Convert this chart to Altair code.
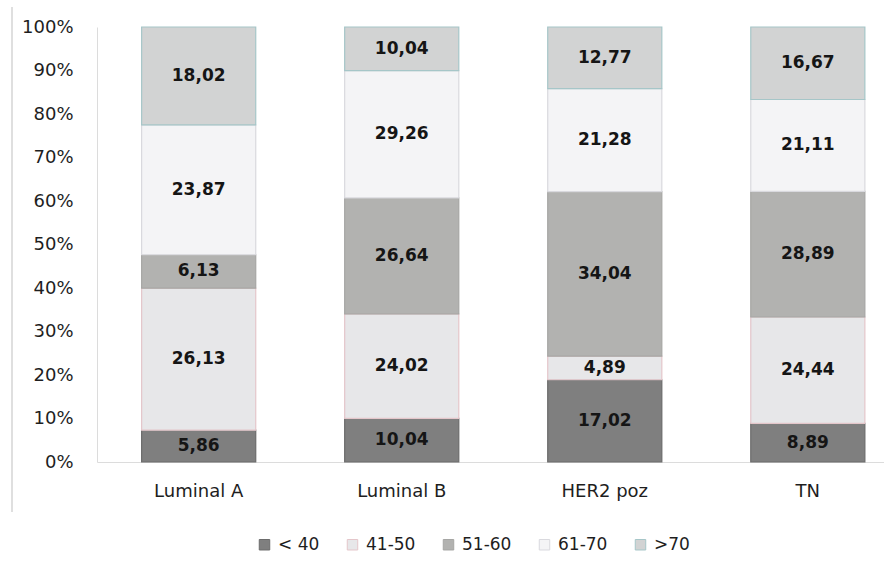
import altair as alt
import pandas as pd

# Age-group share within each breast-cancer subtype
subtypes = ["Luminal A", "Luminal B", "HER2 poz", "TN"]
age_groups = ["< 40", "41-50", "51-60", "61-70", ">70"]
lt40 = [5.86, 10.04, 17.02, 8.89]
g41_50 = [26.13, 24.02, 4.89, 24.44]
g51_60 = [6.13, 26.64, 34.04, 28.89]
g61_70 = [23.87, 29.26, 21.28, 21.11]
gt70 = [18.02, 10.04, 12.77, 16.67]

fills = ["#7f7f7f", "#e7e7e9", "#b2b2b0", "#f4f4f6", "#d2d3d3"]
strokes = ["#6c6c6c", "#e4c6ca", "#a6a6a4", "#d9d9de", "#a6c6c8"]

FONT = "DejaVu Sans"
TEXT_COLOR = "#1e1e1e"

series = [lt40, g41_50, g51_60, g61_70, gt70]
rows = []
for gi, (grp, vals) in enumerate(zip(age_groups, series)):
    for cat, v in zip(subtypes, vals):
        rows.append({
            "subtype": cat,
            "group": grp,
            "order": gi,
            "value": v,
            "label": f"{v:.2f}".replace(".", ","),
        })
df = pd.DataFrame(rows)

base = alt.Chart(df).transform_joinaggregate(
    total="sum(value)", groupby=["subtype"]
).transform_window(
    cum="sum(value)", groupby=["subtype"], sort=[alt.SortField("order")],
    frame=[None, 0]
).transform_calculate(
    y1="datum.cum / datum.total",
    y0="(datum.cum - datum.value) / datum.total",
    ym="(datum.cum - datum.value / 2) / datum.total",
)

x_enc = alt.X(
    "subtype:N", sort=subtypes, title=None,
    scale=alt.Scale(paddingInner=0.438, paddingOuter=0.157, align=0.7),
    axis=alt.Axis(labelAngle=0, ticks=False, labelPadding=20, labelFontSize=18,
                  labelColor=TEXT_COLOR, domainColor="#dcdcdc", labelFont=FONT),
)

y_scale = alt.Scale(domain=[0, 1], nice=False)

bars = base.mark_bar(strokeWidth=1.2).encode(
    x=x_enc,
    y=alt.Y("y1:Q", scale=y_scale, title=None,
            axis=alt.Axis(values=[i / 10 for i in range(11)], format=".0%",
                          grid=False, ticks=False, labelPadding=24,
                          labelFontSize=18, labelColor=TEXT_COLOR,
                          domainColor="#dcdcdc", labelFont=FONT)),
    y2="y0:Q",
    fill=alt.Fill("group:N", sort=age_groups,
                  scale=alt.Scale(domain=age_groups, range=fills),
                  legend=alt.Legend(title=None, orient="none", direction="horizontal",
                                    legendX=159, legendY=509, symbolType="square",
                                    symbolSize=110, symbolStrokeWidth=1,
                                    labelFontSize=17, labelFont=FONT,
                                    labelColor=TEXT_COLOR, columnPadding=24,
                                    labelOffset=5)),
    stroke=alt.Stroke("group:N", sort=age_groups,
                      scale=alt.Scale(domain=age_groups, range=strokes),
                      legend=None),
)

labels = base.mark_text(fontSize=17, fontWeight="bold", font=FONT,
                        color="#151515").encode(
    x=alt.X("subtype:N", sort=subtypes),
    y=alt.Y("ym:Q", scale=y_scale),
    text="label:N",
)

# thin frame edge on the far left
frame_edge = alt.Chart(pd.DataFrame({"k": [0]})).mark_rule(
    color="#d4d4d4", strokeWidth=1.5
).encode(x=alt.value(-85), y=alt.value(-20), y2=alt.value(485))

chart = alt.layer(bars, labels, frame_edge).properties(
    width=787, height=435,
    autosize=alt.AutoSizeParams(type="none"),
    padding={"left": 97, "top": 27, "right": 0, "bottom": 102},
    background="white",
).configure_view(stroke=None)

chart.save("out.html", embed_options={"renderer": "svg", "actions": False})
